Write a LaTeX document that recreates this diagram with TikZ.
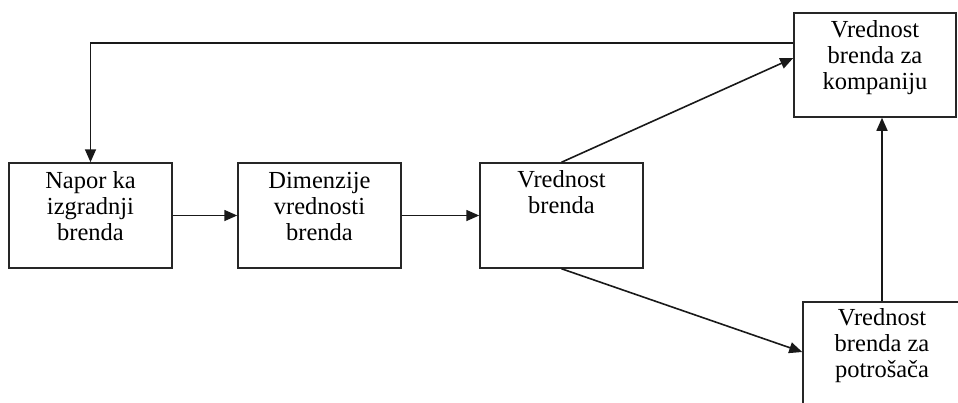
\documentclass[tikz,border=0pt]{standalone}
\usepackage{fontspec}
\setmainfont{Liberation Serif}
\usetikzlibrary{arrows.meta}
\begin{document}
\begin{tikzpicture}[x=1pt,y=-1pt,
  box/.style={draw=black!85, line width=1.5pt, rectangle, inner sep=0pt},
  txt/.style={align=center, inner sep=0pt, font=\fontsize{24.5}{26}\selectfont, anchor=base},
  arr/.style={draw=black!90, line width=1.6pt, -{Triangle[length=13pt,width=11pt]}}]
  \useasboundingbox (0,0) rectangle (958,402);
  \clip (0,0) rectangle (958,402);

  % boxes
  \node[box, minimum width=163pt, minimum height=105pt] (b1) at (90.5,215.5) {};
  \node[box, minimum width=163pt, minimum height=105pt] (b2) at (319.5,215.5) {};
  \node[box, minimum width=163pt, minimum height=105pt] (b3) at (561.5,215.5) {};
  \node[box, minimum width=162pt, minimum height=104pt] (b4) at (875,65) {};
  \node[box, minimum width=158pt, minimum height=105pt] (b5) at (882,354.5) {};

  % labels (anchored on the baseline of their last line)
  \node[txt] (t1) at ([yshift=-78pt]b1.north) {Napor ka\\izgradnji\\brenda};
  \node[txt] (t2) at ([yshift=-78pt]b2.north) {Dimenzije\\vrednosti\\brenda};
  \node[txt] (t3) at ([yshift=-51pt]b3.north) {Vrednost\\brenda};
  \node[txt] (t4) at ([yshift=-77pt]b4.north) {Vrednost\\brenda za\\kompaniju};
  \node[txt] (t5) at ([yshift=-76pt]b5.north) {Vrednost\\brenda za\\potrošača};

  % connectors
  \coordinate (loop) at (89,43);
  \draw[arr] (b4.west |- loop) -- (b1.north |- loop) -- (b1.north);
  \draw[arr] (b1.east) -- (b2.west);
  \draw[arr] (b2.east) -- (b3.west);
  \draw[arr] (b3.north) -- ([yshift=7pt]b4.west);
  \draw[arr] (b3.south) -- ([yshift=2.5pt]b5.west);
  \draw[arr] (b5.north) -- (b5.north |- b4.south);
\end{tikzpicture}
\end{document}
